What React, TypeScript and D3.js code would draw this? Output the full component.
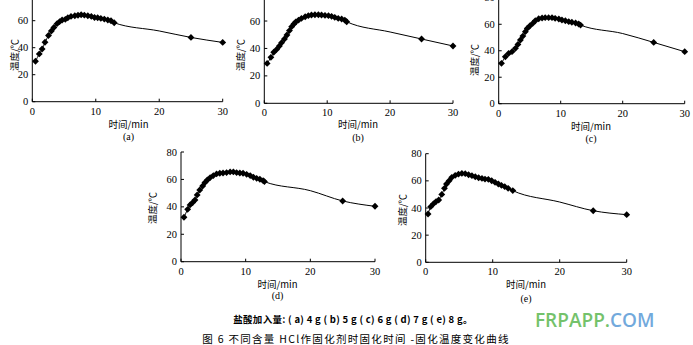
import React from "react";
import * as d3 from "d3";

// ---- data (time in min, temperature in °C) ----
const timeA = [0.5,1.1,1.55,2,2.55,3,3.4,3.9,4.3,4.7,5.2,5.6,6.1,6.7,7.2,7.7,8.2,8.75,9.3,9.8,10.3,10.8,11.35,11.9,12.4,12.9,25,30];
const tempA = [30,35.4,39,44,49,52.4,55,57.8,59.3,60.5,61,62.2,63.2,63.7,64,64.4,64.1,63.7,63.2,62.4,62.2,61.7,61.2,60.5,60,58.5,47.6,43.9];
const timeB = [0.45,1.05,1.5,1.96,2.4,2.75,3.2,3.6,4,4.35,4.7,5,5.45,5.9,6.5,7,7.5,8.05,8.6,9.1,9.65,10.2,10.7,11.2,11.75,12.3,12.8,13.1,25,30];
const tempB = [29.1,33.5,37.2,39.3,41.8,44.2,46.9,49.8,53,55.9,57.8,59.3,60.7,61.9,63.1,63.9,64.4,64.6,64.6,64.4,64.1,63.9,63.4,62.7,61.9,61.5,60.7,59.5,46.9,41.8];
const timeC = [0.45,1.07,1.6,2.15,2.7,3.1,3.5,3.9,4.3,4.6,5,5.5,5.9,6.45,7,7.5,8.05,8.6,9.1,9.7,10.2,10.75,11.3,11.8,12.4,12.9,13.2,25,30];
const tempC = [30.5,35.5,38,39.3,41.8,44.8,48.1,51.1,54.4,56.9,58.7,60.7,62.7,64.2,64.7,65,65,65,64.5,64,63.2,62.7,62,61.5,61,60.2,59.4,46.3,39.3];
const timeD = [0.46,1.03,1.4,1.8,2.16,2.5,2.9,3.35,3.7,4.07,4.5,5,5.5,6,6.5,7.05,7.6,8.1,8.6,9.1,9.6,10.15,10.7,11.2,11.7,12.2,12.7,12.9,25,30];
const tempD = [32.4,38.2,41.4,43.1,45,48.7,52.3,55.2,57.7,59.6,61.3,62.8,64,64.5,64.7,65,65.5,65.5,65,64.7,64.5,63.7,62.8,61.6,60.8,60.1,59.1,58.4,44.3,40.4];
const timeE = [0.35,0.75,1.14,1.54,1.94,2.4,2.8,3.1,3.5,3.9,4.4,4.9,5.4,5.9,6.4,6.9,7.4,7.9,8.4,8.85,9.35,9.85,10.35,10.85,11.3,11.8,12.3,13,25,30];
const tempE = [35.6,41,43,44.7,45.9,50,54.5,57.7,60.1,62.6,64,65,65.5,65.3,64.5,63.8,63,62.3,61.8,61.3,61.1,60.1,58.9,57.7,56.7,55.7,54.5,52.8,38,35.1];
// unmarked bend of the curve between 13 and 25 min
const bendTime = [20];
const bendA = [52.4];
const bendB = [52];
const bendC = [53];
const bendD = [51.8];
const bendE = [44.4];

const xTicks = [0, 10, 20, 30];
const yTicks = [0, 20, 40, 60, 80];
const panelLabels = ["(a)", "(b)", "(c)", "(d)", "(e)"];
const xTitle = "时间/min";
const yTitle = "温度/℃";
const caption1 = "盐酸加入量: ( a) 4 g  ( b) 5 g  ( c) 6 g  ( d) 7 g  ( e) 8 g。";
const caption2 = "图  6   不同含量  HCl作固化剂时固化时间 -固化温度变化曲线";

const series = [
  { t: timeA, v: tempA, b: bendA },
  { t: timeB, v: tempB, b: bendB },
  { t: timeC, v: tempC, b: bendC },
  { t: timeD, v: tempD, b: bendD },
  { t: timeE, v: tempE, b: bendE },
];

// layout (pixel frames of each panel)
const frames = [
  { x0: 32.3, x1: 222.7, y0: 101.7, y1: -6.3, yl: [14, 55], xl: [128.5, 128], pl: 140 },
  { x0: 264.3, x1: 453, y0: 103.3, y1: -6.4, yl: [240, 55], xl: [358, 128], pl: 141 },
  { x0: 498.7, x1: 684.7, y0: 103.7, y1: -2.2, yl: [474.5, 60], xl: [591, 130], pl: 141.7 },
  { x0: 181, x1: 375, y0: 261.7, y1: 152, yl: [152.5, 208], xl: [277.5, 287.7], pl: 299 },
  { x0: 425.7, x1: 626.7, y0: 262.3, y1: 153.7, yl: [402.5, 210], xl: [526, 288.3], pl: 301.7 },
];

const serif = "'Liberation Serif', 'DejaVu Serif', serif";
const cjk = "'Noto Sans CJK SC', sans-serif";

function Panel({ idx }: { idx: number }) {
  const f = frames[idx];
  const s = series[idx];
  const x = d3.scaleLinear().domain([0, 30]).range([f.x0, f.x1]);
  const y = d3.scaleLinear().domain([0, 80]).range([f.y0, f.y1]);
  const pts: [number, number][] = s.t.map((t, i) => [t, s.v[i]]);
  const linePts = [...pts.slice(0, pts.length - 2), [bendTime[0], s.b[0]] as [number, number], ...pts.slice(pts.length - 2)];
  const line = d3.line<[number, number]>().x(d => x(d[0])).y(d => y(d[1])).curve(d3.curveMonotoneX);
  const diamond = d3.symbol().type(d3.symbolDiamond2).size(30)();
  return (
    <g>
      <line x1={f.x0} x2={f.x1} y1={f.y0} y2={f.y0} stroke="#000" strokeWidth={1} />
      <line x1={f.x0} x2={f.x0} y1={f.y0} y2={f.y1} stroke="#000" strokeWidth={1} />
      {xTicks.map(t => (
        <g key={"x" + t}>
          <line x1={x(t)} x2={x(t)} y1={f.y0} y2={f.y0 - 3} stroke="#000" />
          <text x={x(t)} y={f.y0 + 13} textAnchor="middle" fontFamily={serif} fontSize={10.5}>{t}</text>
        </g>
      ))}
      {yTicks.map(t => (
        <g key={"y" + t}>
          <line x1={f.x0} x2={f.x0 + 3} y1={y(t)} y2={y(t)} stroke="#000" />
          {y(t) + 3.5 > 1 && (
            <text x={f.x0 - 4} y={y(t) + 3.5} textAnchor="end" fontFamily={serif} fontSize={10.5}>{t}</text>
          )}
        </g>
      ))}
      <path d={line(linePts) || ""} fill="none" stroke="#000" strokeWidth={1} />
      {pts.map((p, i) => (
        <path key={i} d={diamond || ""} transform={`translate(${x(p[0])},${y(p[1])})`} fill="#000" />
      ))}
      <text transform={`translate(${f.yl[0] + 3.5},${f.yl[1]}) rotate(-90)`} textAnchor="middle" fontFamily={cjk} fontSize={9.5}>{yTitle}</text>
      <text x={f.xl[0]} y={f.xl[1]} textAnchor="middle" fontFamily={cjk} fontSize={9.5}>
        {xTitle}
      </text>
      <text x={f.xl[0]} y={f.pl} textAnchor="middle" fontFamily={serif} fontSize={10}>{panelLabels[idx]}</text>
    </g>
  );
}

export default function App() {
  return (
    <svg width={693} height={345} style={{ position: "absolute", left: 0, top: 0, background: "#fff" }}>
      <rect width={693} height={345} fill="#fff" />
      {series.map((_, i) => <Panel key={i} idx={i} />)}
      <text x={353} y={323} textAnchor="middle" fontFamily={cjk} fontSize={9.5} fontWeight={700} letterSpacing={0.3}>{caption1}</text>
      <text x={356} y={343} textAnchor="middle" fontFamily={cjk} fontSize={10.5} letterSpacing={1.3}>{caption2}</text>
      <text x={535} y={327} fontFamily="'Open Sans', 'Noto Sans', sans-serif" fontSize={19} fontWeight={600}>
        <tspan fill="#74c26b">FRPAPP.</tspan>
        <tspan fill="#72a9dc">COM</tspan>
      </text>
    </svg>
  );
}
